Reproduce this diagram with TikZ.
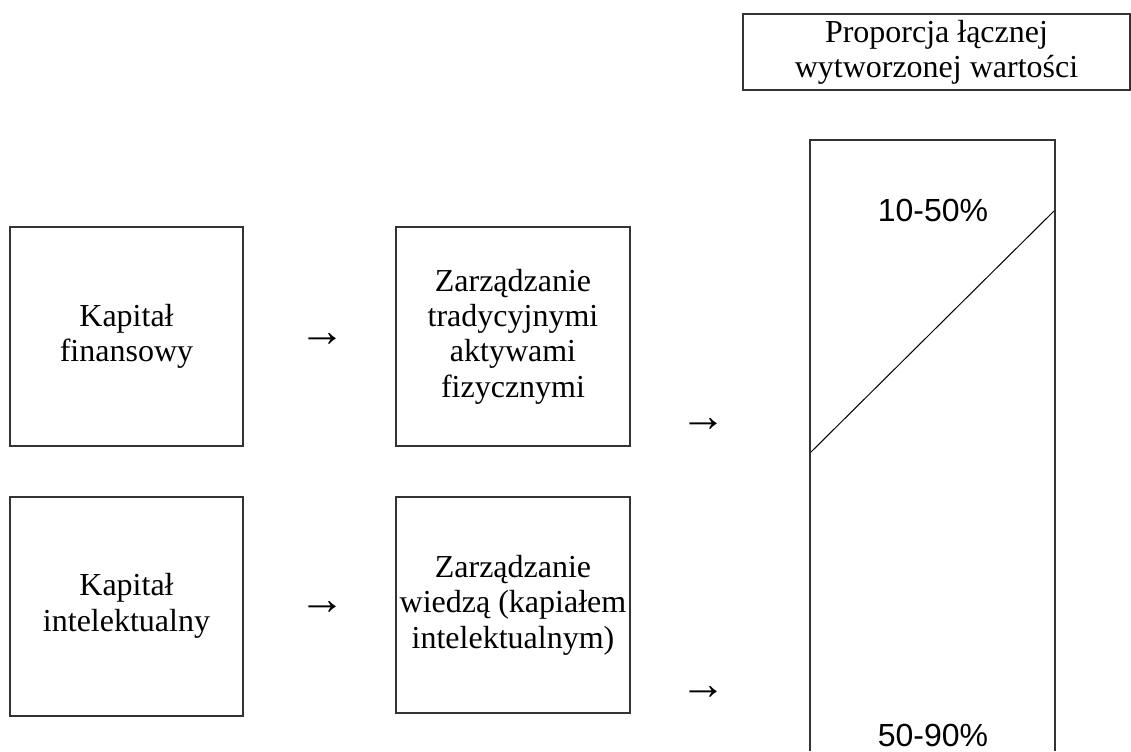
\documentclass[tikz,border=0pt]{standalone}
\usepackage{fontspec}
\setmainfont{Liberation Serif}
\newfontfamily\pctfont{Liberation Sans}
\usetikzlibrary{positioning}

\begin{document}
\begin{tikzpicture}[
      x=0.5pt, y=-0.5pt,
      box/.style={rectangle, draw=black!80, line width=1pt, align=center,
                  inner sep=2pt, minimum width=116.5pt, minimum height=109.5pt,
                  font=\fontsize{16}{17.7}\selectfont},
      head/.style={rectangle, draw=black!80, line width=1pt, align=center,
                   inner sep=2pt, minimum width=193.5pt, minimum height=38pt,
                   font=\fontsize{16}{17.5}\selectfont},
      pct/.style={font=\pctfont\fontsize{16}{18}\selectfont, inner sep=0pt},
      arr/.style={font=\fontsize{23}{24}\selectfont, inner sep=0pt}
    ]
    \useasboundingbox (0,0) rectangle (1131,751);
    % left column
    \node[box] (fin) at (126.5,336.5) {Kapitał\\finansowy};
    \node[box] (int) at (126.5,606) {Kapitał\\intelektualny};
    % middle column
    \node[box, minimum width=117pt] (trad) at (513,336.5) {Zarządzanie\\tradycyjnymi\\aktywami\\fizycznymi};
    \node[box, minimum width=117pt, minimum height=108pt] (wied) at (513,605) {Zarządzanie\\wiedzą (kapiałem\\intelektualnym)};
    % arrow glyphs
    \node[arr] (a1) at (322,340) {→};
    \node[arr] (a2) at (322,608) {→};
    \node[arr] (a3) at (703,425) {→};
    \node[arr] (a4) at (703,693) {→};
    % right column
    \node[head] (prop) at (936.5,52) {Proporcja łącznej\\wytworzonej wartości};
    \coordinate (bl) at (810,751);
    \coordinate (tl) at (810,140);
    \coordinate (tr) at (1055,140);
    \coordinate (br) at (1055,751);
    \draw[draw=black!80, line width=1pt] (bl) -- (tl) -- (tr) -- (br);
    \coordinate (d1) at (811,452);
    \coordinate (d2) at (1054,211);
    \draw[line width=0.5pt] (d1) -- (d2);
    \node[pct] (low) at (933,210) {10-50\%};
    \node[pct] (high) at (933,735) {50-90\%};
  \end{tikzpicture}
\end{document}
